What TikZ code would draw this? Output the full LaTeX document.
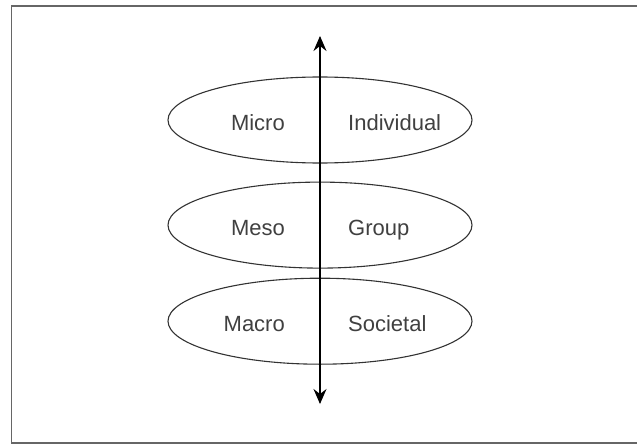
\documentclass[tikz,border=0pt]{standalone}
\usepackage{fontspec}
\setmainfont{Liberation Sans}
\usetikzlibrary{positioning, arrows.meta, shapes.geometric}

\begin{document}
\begin{tikzpicture}[x=1pt, y=-1pt, node distance=18pt,
	>={Stealth[length=15pt, width=13pt, inset=5pt]},
	level/.style={ellipse, draw=black!80, line width=1.1pt, minimum width=304pt, minimum height=86pt, inner sep=0pt},
	tag/.style={text=black!75, font=\fontsize{22}{26}\selectfont, inner sep=0pt}]
	\useasboundingbox (0,0) rectangle (637,444);
	% frame, open on the right
	\draw[black!60, line width=1.5pt] (660,6) -- (11.5,6) -- (11.5,443) -- (660,443);

	\node (micro) [level] at (320,120) {};
	\node (meso) [level, below=18pt of micro] {};
	\node (macro) [level, below=9pt of meso] {};

	\node (microL) [tag, anchor=base east] at ([xshift=-35pt, yshift=-10pt]micro.center) {Micro};
	\node (microR) [tag, anchor=base west] at ([xshift=28pt, yshift=-10pt]micro.center) {Individual};
	\node (mesoL) [tag, anchor=base east] at ([xshift=-35pt, yshift=-10pt]meso.center) {Meso};
	\node (mesoR) [tag, anchor=base west] at ([xshift=28pt, yshift=-10pt]meso.center) {Group};
	\node (macroL) [tag, anchor=base east] at ([xshift=-35pt, yshift=-10pt]macro.center) {Macro};
	\node (macroR) [tag, anchor=base west] at ([xshift=28pt, yshift=-10pt]macro.center) {Societal};

	\coordinate (up) at (320,36);
	\coordinate (down) at (320,404);
	\draw[<->, line width=1.1pt] (up) -- (down);
\end{tikzpicture}
\end{document}
